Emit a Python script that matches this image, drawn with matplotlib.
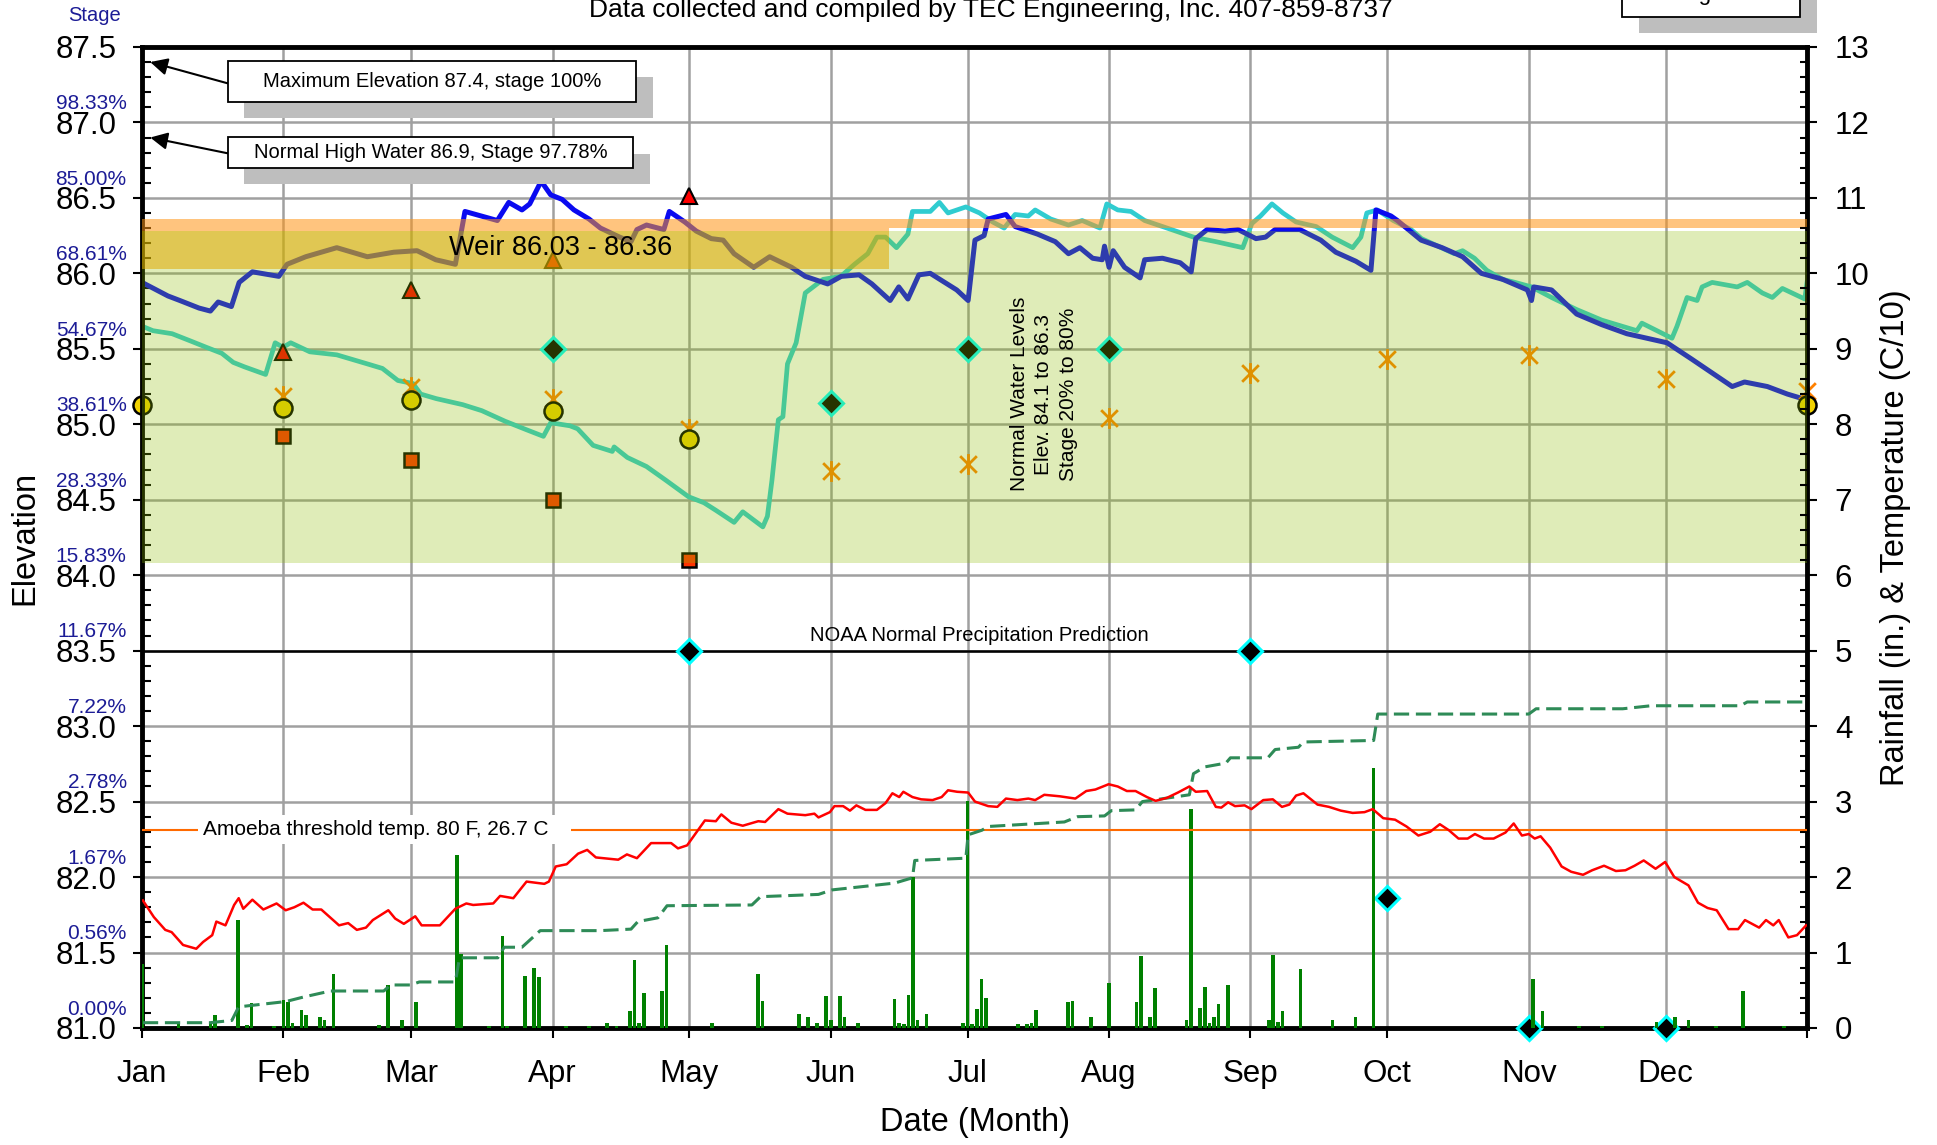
import numpy as np
import matplotlib
matplotlib.use("Agg")
import matplotlib.pyplot as plt
from matplotlib.patches import Rectangle
from matplotlib.path import Path
from matplotlib.ticker import MultipleLocator, FormatStrFormatter

plt.rcParams['font.family'] = ['Liberation Sans', 'DejaVu Sans']

# ---- axes / labels ----
months = ['Jan', 'Feb', 'Mar', 'Apr', 'May', 'Jun', 'Jul', 'Aug', 'Sep', 'Oct', 'Nov', 'Dec']
month_day = [0, 31, 59, 90, 120, 151, 181, 212, 243, 273, 304, 334]
elev_ticks = [81.0, 81.5, 82.0, 82.5, 83.0, 83.5, 84.0, 84.5, 85.0, 85.5, 86.0, 86.5, 87.0, 87.5]
stage_pct = ['0.00%', '0.56%', '1.67%', '2.78%', '7.22%', '11.67%', '15.83%',
             '28.33%', '38.61%', '54.67%', '68.61%', '85.00%', '98.33%']

# ---- reference levels ----
max_elev = 87.4
normal_high = 86.9
weir_lo, weir_hi = 86.03, 86.36
norm_lo, norm_hi = 84.08, 86.28
weir_end_day = 163.7
noaa_elev = 83.5
amoeba_temp = 2.63   # C/10 on right axis

# ---- lake elevation, current year (day, ft) ----
elev_pts = [(0, 85.94), (5.7, 85.85), (8.3, 85.82), (12.5, 85.77), (15, 85.75), (16.7, 85.81),
            (19.6, 85.78), (21.3, 85.94), (24.2, 86.01), (30, 85.98), (31.8, 86.06), (35.9, 86.11),
            (42.7, 86.17), (49.4, 86.11), (55.2, 86.14), (60.3, 86.15), (64.4, 86.09), (68.7, 86.06),
            (70.8, 86.41), (77.9, 86.35), (80.4, 86.47), (83.3, 86.42), (85, 86.46), (87.5, 86.61),
            (89.6, 86.52), (92.1, 86.49), (94.7, 86.42), (98, 86.36), (100.5, 86.30), (104.7, 86.24),
            (107.2, 86.21), (108.5, 86.29), (110.6, 86.32), (114.4, 86.29), (115.6, 86.41), (119, 86.34),
            (121.5, 86.28), (124.8, 86.23), (127.4, 86.22), (129.8, 86.13), (134.1, 86.04), (137.6, 86.11),
            (142.4, 86.04), (145.4, 85.98), (150.3, 85.93), (153.3, 85.98), (157.2, 85.99), (160, 85.93),
            (164, 85.82), (165.9, 85.91), (167.9, 85.83), (170.3, 85.99), (172.8, 86.00), (178.6, 85.89),
            (181.1, 85.82), (182.6, 86.22), (184.6, 86.25), (185.5, 86.36), (189.4, 86.39), (191.4, 86.31),
            (196.3, 86.26), (200.2, 86.21), (203.1, 86.13), (205.6, 86.17), (208.4, 86.10), (210.5, 86.09),
            (211, 86.18), (212, 86.04), (212.9, 86.15), (215.4, 86.04), (218.8, 85.97), (219.8, 86.09),
            (223.7, 86.10), (227.6, 86.07), (230, 86.01), (231, 86.23), (233.5, 86.29), (237.4, 86.28),
            (240.3, 86.29), (244.2, 86.23), (246.3, 86.24), (248.4, 86.29), (253.8, 86.29), (258.4, 86.22),
            (261.7, 86.14), (266.1, 86.08), (269.4, 86.02), (270.5, 86.42), (273.8, 86.38), (275.2, 86.35),
            (280.4, 86.22), (285, 86.17), (289.5, 86.11), (293.6, 86.00), (298.3, 85.96), (303.7, 85.89),
            (304.6, 85.82), (305.1, 85.91), (309, 85.89), (314.5, 85.73), (320, 85.66), (325.5, 85.60),
            (334.3, 85.54), (339.8, 85.43), (344.2, 85.34), (348.6, 85.25), (351.3, 85.28), (356.3, 85.25),
            (360.7, 85.20), (364, 85.17)]

# ---- lake elevation, previous year (day, ft) ----
prev_pts = [(0, 85.65), (2.4, 85.62), (6.6, 85.60), (10.8, 85.55), (14.1, 85.51), (17.5, 85.47),
            (20, 85.41), (22.5, 85.38), (27.1, 85.33), (29.2, 85.54), (30.9, 85.51), (32.6, 85.54),
            (36.8, 85.48), (42.7, 85.46), (49.4, 85.40), (52.7, 85.37), (56.1, 85.29), (59.4, 85.27),
            (61.1, 85.20), (64.5, 85.17), (70.3, 85.13), (74.5, 85.09), (79.6, 85.02), (84.6, 84.96),
            (88, 84.92), (89.6, 85.01), (93.8, 84.99), (95.5, 84.97), (98.9, 84.86), (103.1, 84.82),
            (103.5, 84.85), (106.4, 84.78), (110.6, 84.72), (114.8, 84.63), (119.8, 84.52), (123.2, 84.48),
            (125.8, 84.43), (129.8, 84.35), (131.7, 84.42), (136.1, 84.32), (137.1, 84.39), (138.1, 84.63),
            (139.5, 85.03), (140.5, 85.05), (141.5, 85.40), (143.4, 85.54), (145.4, 85.87), (149.3, 85.96),
            (153.2, 85.98), (156.2, 86.06), (159.1, 86.13), (161.1, 86.24), (163, 86.24), (165.4, 86.17),
            (167.9, 86.26), (168.9, 86.41), (172.8, 86.41), (174.8, 86.47), (176.7, 86.40), (180.6, 86.44),
            (183.6, 86.40), (186.5, 86.34), (189, 86.30), (191.4, 86.39), (194.3, 86.38), (195.8, 86.42),
            (199.2, 86.36), (203.1, 86.32), (206.1, 86.35), (210, 86.30), (211.5, 86.46), (213.9, 86.42),
            (216.8, 86.41), (219.8, 86.35), (224.7, 86.30), (230.5, 86.24), (235.4, 86.21), (241.3, 86.17),
            (243.3, 86.33), (245.2, 86.38), (247.7, 86.46), (250.1, 86.40), (253, 86.34), (257.4, 86.31),
            (260.9, 86.24), (265.4, 86.17), (267.2, 86.24), (268.5, 86.40), (270.8, 86.42), (274.3, 86.35),
            (278.2, 86.29), (280.5, 86.23), (284.1, 86.18), (287.7, 86.13), (289.5, 86.15), (292.1, 86.10),
            (294.8, 86.02), (298.3, 85.96), (301, 85.94), (304.6, 85.91), (309, 85.84), (314.5, 85.76),
            (320, 85.69), (327.7, 85.62), (328.8, 85.67), (335.4, 85.57), (336.5, 85.65), (338.7, 85.84),
            (340.9, 85.82), (342, 85.91), (344.2, 85.94), (349.7, 85.91), (351.9, 85.94), (355.2, 85.87),
            (357.4, 85.84), (359.6, 85.90), (364.5, 85.83), (365, 85.94)]

# ---- monthly markers (elevation axis) ----
circle_day = [0, 31, 59, 90, 120, 365]
circle_elev = [85.13, 85.11, 85.16, 85.09, 84.90, 85.13]
star_day = [31, 59, 90, 120, 151, 181, 212, 243, 273, 304, 334, 365]
star_elev = [85.19, 85.25, 85.17, 84.97, 84.69, 84.74, 85.04, 85.34, 85.43, 85.46, 85.30, 85.22]
square_day = [31, 59, 90, 120]
square_elev = [84.92, 84.76, 84.50, 84.10]
tri_day = [31, 59, 90, 120]
tri_elev = [85.48, 85.89, 86.09, 86.51]
diam_day = [90, 120, 151, 181, 212, 243, 273, 304, 334]
diam_elev = [85.50, 83.50, 85.14, 85.50, 85.50, 83.50, 81.86, 81.00, 81.00]

# ---- water temperature (C/10) ----
temp_pts = [(0.2, 1.69), (2.6, 1.47), (5.1, 1.30), (6.5, 1.27), (9.0, 1.10), (11.9, 1.05), (13.4, 1.14),
            (15.4, 1.23), (16.3, 1.41), (18.3, 1.36), (20.2, 1.63), (21.2, 1.72), (22.2, 1.58), (24.2, 1.70),
            (26.6, 1.57), (29.5, 1.65), (31.5, 1.56), (33.4, 1.60), (35.4, 1.66), (37.4, 1.57), (39.3, 1.57),
            (43.2, 1.36), (45.2, 1.39), (47.1, 1.30), (49.1, 1.33), (50.6, 1.43), (54.0, 1.56), (55.5, 1.45),
            (57.4, 1.38), (59.9, 1.48), (61.3, 1.36), (65.3, 1.36), (66.7, 1.45), (68.7, 1.58), (71.1, 1.65),
            (72.6, 1.63), (77.0, 1.65), (78.5, 1.75), (81.4, 1.72), (84.3, 1.94), (88.2, 1.91), (89.2, 1.94),
            (90.7, 2.14), (93.1, 2.17), (95.6, 2.31), (97.6, 2.36), (99.5, 2.26), (104.4, 2.23), (106.3, 2.30),
            (108.5, 2.25), (111.6, 2.45), (116.0, 2.45), (117.5, 2.38), (119.5, 2.42), (123.4, 2.75),
            (125.8, 2.74), (127.0, 2.83), (129.2, 2.72), (131.7, 2.68), (135.1, 2.74), (136.6, 2.73),
            (139.5, 2.90), (141.5, 2.84), (145.4, 2.82), (147.4, 2.84), (148.3, 2.79), (150.8, 2.86),
            (151.8, 2.94), (153.7, 2.94), (155.2, 2.88), (156.6, 2.95), (158.6, 2.89), (161.1, 2.89),
            (163.0, 2.98), (164.5, 3.11), (166.0, 3.06), (166.9, 3.13), (168.9, 3.06), (170.8, 3.03),
            (173.3, 3.02), (175.3, 3.06), (176.7, 3.15), (178.7, 3.13), (181.1, 3.12), (182.6, 3.00),
            (185.5, 2.94), (187.5, 2.93), (189.4, 3.04), (191.9, 3.02), (194.3, 3.04), (195.8, 3.02),
            (197.8, 3.09), (201.2, 3.07), (204.6, 3.04), (207.0, 3.14), (209.0, 3.16), (211.9, 3.23),
            (213.9, 3.20), (215.9, 3.14), (217.8, 3.14), (220.3, 3.06), (222.2, 3.01), (224.7, 3.05),
            (227.1, 3.12), (229.6, 3.20), (231.0, 3.13), (233.5, 3.14), (235.4, 2.93), (236.6, 2.92),
            (238.1, 2.99), (239.6, 2.94), (241.7, 2.95), (243.2, 2.90), (245.8, 3.02), (247.9, 3.03),
            (249.9, 2.93), (251.5, 2.96), (253.0, 3.08), (254.6, 3.11), (257.7, 2.96), (260.2, 2.93),
            (262.8, 2.88), (265.4, 2.85), (268.0, 2.86), (269.8, 2.90), (272.1, 2.78), (274.7, 2.76),
            (277.2, 2.67), (279.8, 2.55), (282.4, 2.60), (284.5, 2.70), (286.5, 2.62), (288.6, 2.51),
            (290.6, 2.51), (292.2, 2.57), (294.2, 2.51), (296.3, 2.51), (298.9, 2.59), (300.7, 2.71),
            (302.5, 2.55), (304.0, 2.57), (305.3, 2.51), (306.6, 2.54), (308.7, 2.39), (311.2, 2.14),
            (313.3, 2.07), (315.9, 2.03), (317.9, 2.09), (320.5, 2.15), (323.1, 2.08), (325.2, 2.09),
            (327.2, 2.15), (329.2, 2.22), (331.8, 2.11), (333.9, 2.20), (335.9, 2.00), (339.0, 1.89),
            (341.1, 1.66), (343.2, 1.59), (345.2, 1.56), (347.8, 1.31), (349.9, 1.31), (351.4, 1.43),
            (354.5, 1.33), (356.0, 1.43), (357.6, 1.36), (358.8, 1.43), (360.9, 1.20), (362.8, 1.23),
            (364.8, 1.36)]

# ---- cumulative rainfall (in.) ----
cum_pts = [(0.2, 0.07), (14.9, 0.07), (19.7, 0.10), (21.2, 0.28), (31.5, 0.35), (35.4, 0.41),
           (41.3, 0.49), (53.0, 0.49), (54.5, 0.57), (58.9, 0.57), (60.8, 0.61), (68.7, 0.61),
           (69.6, 0.93), (78.0, 0.93), (79.4, 1.07), (83.3, 1.07), (87.3, 1.29), (100.4, 1.29),
           (107.2, 1.31), (108.7, 1.41), (113.1, 1.46), (115.1, 1.62), (133.7, 1.63), (135.6, 1.74),
           (148.3, 1.77), (151.3, 1.83), (165.0, 1.92), (168.9, 1.99), (169.4, 2.22), (180.6, 2.25),
           (181.1, 2.56), (184.1, 2.62), (185.5, 2.67), (202.2, 2.73), (205.1, 2.80), (211.0, 2.81),
           (212.5, 2.88), (217.8, 2.89), (219.3, 3.00), (221.7, 3.02), (229.6, 3.09), (230.5, 3.37),
           (233.0, 3.46), (237.6, 3.51), (238.6, 3.58), (246.8, 3.58), (248.4, 3.69), (253.5, 3.72),
           (254.6, 3.79), (270.0, 3.81), (270.9, 4.16), (304.0, 4.16), (305.6, 4.23), (324.6, 4.23),
           (330.8, 4.27), (350.4, 4.27), (351.9, 4.32), (364.8, 4.32)]

# ---- daily rainfall (in.) ----
rain_day = [0, 8, 15, 16, 21, 23, 24, 29, 31, 32, 33, 35, 36, 39, 40, 42, 52, 54, 57, 60,
            69, 70, 76, 79, 80, 84, 86, 87, 93, 98, 102, 104, 107, 108, 109, 110, 114, 115, 125, 135,
            136, 144, 146, 148, 150, 151, 153, 154, 157, 165, 166, 167, 168, 169, 170, 172, 180, 181, 182, 183,
            184, 185, 192, 194, 195, 196, 203, 204, 208, 212, 218, 219, 221, 222, 229, 230, 232, 233, 234, 235,
            236, 238, 247, 248, 249, 250, 254, 261, 266, 270, 305, 307, 315, 320, 332, 336, 339, 345, 351, 360]
rain_in = [0.85, 0.07, 0.06, 0.17, 1.43, 0.04, 0.33, 0.03, 0.37, 0.35, 0.07, 0.24, 0.17, 0.15, 0.11, 0.71, 0.04, 0.57, 0.11, 0.35,
           2.29, 0.98, 0.02, 1.22, 0.02, 0.69, 0.80, 0.68, 0.02, 0.02, 0.07, 0.02, 0.23, 0.90, 0.07, 0.47, 0.49, 1.10, 0.06, 0.71,
           0.36, 0.19, 0.14, 0.07, 0.43, 0.11, 0.43, 0.14, 0.07, 0.39, 0.07, 0.05, 0.44, 2.00, 0.11, 0.19, 0.07, 3.01, 0.05, 0.25,
           0.65, 0.40, 0.05, 0.05, 0.06, 0.24, 0.35, 0.36, 0.14, 0.60, 0.35, 0.95, 0.14, 0.53, 0.10, 2.90, 0.27, 0.54, 0.07, 0.15,
           0.32, 0.57, 0.10, 0.97, 0.08, 0.23, 0.78, 0.10, 0.14, 3.45, 0.65, 0.23, 0.02, 0.02, 0.08, 0.14, 0.10, 0.02, 0.49, 0.02]

navy = '#1C1C96'
fs = 22.5
lfs = 23.5

fig = plt.figure(figsize=(19.37, 11.45), dpi=100)
ax = fig.add_axes([0.0733, 0.1022, 0.8596, 0.8568])
ax2 = ax.twinx()

ax.set_xlim(0, 365)
ax.set_ylim(81.0, 87.5)
ax2.set_ylim(0, 13)

# grid + NOAA line
ax.set_axisbelow(True)
ax.grid(True, which='major', color='#A0A0A0', lw=1.8)
ax.axhline(noaa_elev, color='black', lw=1.8, zorder=1)

# lake level lines
e = np.array(elev_pts)
p = np.array(prev_pts)
ax.plot(p[:, 0], p[:, 1], color='#30CCD0', lw=3.4, zorder=2, solid_joinstyle='round')
ax.plot(e[:, 0], e[:, 1], color='#0A0AF0', lw=3.6, zorder=2.1, solid_joinstyle='round')

# monthly markers
star = Path([(-1, -1), (1, 1), (-1, 1), (1, -1), (0, -1.25), (0, 1.25)],
            [Path.MOVETO, Path.LINETO] * 3)
ax.plot(tri_day, tri_elev, ls='none', marker='^', ms=11, mfc='#FF0000', mec='black', mew=1.5, zorder=2.3, clip_on=False)
ax.plot(square_day, square_elev, ls='none', marker='s', ms=10, mfc='#FF3300', mec='black', mew=1.8, zorder=2.3, clip_on=False)
ax.plot(star_day, star_elev, ls='none', marker=star, ms=15, mfc='none', mec='#FF8000', mew=2.0, zorder=2.4, clip_on=False)
ax.plot(circle_day, circle_elev, ls='none', marker='o', ms=13, mfc='#F2D200', mec='black', mew=1.8, zorder=2.5, clip_on=False)
ax.plot(diam_day, diam_elev, ls='none', marker='D', ms=12, mfc='black', mec='#00FFFF', mew=2.2, zorder=2.6, clip_on=False)

# bands drawn over lines (semi transparent)
ax.add_patch(Rectangle((0, norm_lo), 365, norm_hi - norm_lo, fc=(140/255, 190/255, 0), alpha=0.28, lw=0, zorder=3))
ax.add_patch(Rectangle((0, weir_lo), weir_end_day, norm_hi - weir_lo, fc=(225/255, 170/255, 0), alpha=0.55, lw=0, zorder=3.1))
ax.add_patch(Rectangle((0, norm_hi), weir_end_day, weir_hi - norm_hi, fc=(1.0, 148/255, 20/255), alpha=0.55, lw=0, zorder=3.1))
ax.add_patch(Rectangle((weir_end_day, 86.30), 365 - weir_end_day, weir_hi - 86.30, fc=(1.0, 148/255, 20/255), alpha=0.55, lw=0, zorder=3.1))

ax.text(67.4, 86.17, 'Weir 86.03 - 86.36', fontsize=19.5, va='center', ha='left', zorder=6)
ax.text(197.7, 85.2, 'Normal Water Levels\nElev. 84.1 to 86.3\nStage 20% to 80%', rotation=90,
        fontsize=15, ha='center', va='center', multialignment='center', linespacing=1.35, zorder=6)
ax.text(183.6, 83.565, 'NOAA Normal Precipitation Prediction', fontsize=14.5, ha='center', va='baseline', zorder=6)

# right axis: temperature, rainfall
t = np.array(temp_pts)
c = np.array(cum_pts)
ax2.bar(rain_day, rain_in, width=0.8, color='#008000', zorder=2)
ax2.plot(c[:, 0], c[:, 1], color='#2E8B57', lw=2.2, dashes=(5, 2.2), zorder=3)
ax2.plot(t[:, 0], t[:, 1], color='#FF0000', lw=1.8, zorder=3)
ax2.axhline(amoeba_temp, color='#FF6A00', lw=1.5, zorder=2.5)
ax2.text(13.4, amoeba_temp, 'Amoeba threshold temp. 80 F, 26.7 C   ', fontsize=15, va='center', ha='left', zorder=4,
         bbox=dict(boxstyle='square,pad=0.25', fc='white', ec='none'))

# ticks
ax.set_xticks(month_day + [365])
ax.set_xticklabels(months + [''], fontsize=fs)
ax.set_yticks(elev_ticks)
ax.yaxis.set_major_formatter(FormatStrFormatter('%.1f'))
ax.yaxis.set_minor_locator(MultipleLocator(0.1))
ax.tick_params(axis='y', which='major', direction='out', length=6.5, width=1.5, labelsize=fs, pad=12)
ax.tick_params(axis='y', which='minor', direction='in', length=6.5, width=1.5)
ax.tick_params(axis='x', which='major', direction='out', length=7, width=1.5, labelsize=fs, pad=15)
ax2.set_yticks(range(0, 14))
ax2.yaxis.set_minor_locator(MultipleLocator(0.2))
ax2.tick_params(axis='y', which='major', direction='out', length=7, width=1.5, labelsize=fs, pad=13)
ax2.tick_params(axis='y', which='minor', direction='in', length=5, width=1.5)

for s in ax.spines.values():
    s.set_linewidth(3.5)
for s in ax2.spines.values():
    s.set_visible(False)

ax.set_ylabel('Elevation', fontsize=lfs)
ax.yaxis.set_label_coords(-0.061, 0.5)
ax2.set_ylabel('Rainfall (in.) & Temperature (C/10)', fontsize=lfs)
ax2.yaxis.set_label_coords(1.044, 0.5)
ax.set_xlabel('Date (Month)', fontsize=lfs)
ax.xaxis.set_label_coords(0.5, -0.081)

# stage percentages beside the elevation ticks
for el, pct in zip(elev_ticks[:-1], stage_pct):
    ax.annotate(pct, xy=(0, el), xycoords=('axes fraction', 'data'), xytext=(-11, 9.5),
                textcoords='offset points', ha='right', va='baseline', fontsize=15,
                color=navy, annotation_clip=False)
fig.text(0.049, 0.9817, 'Stage', ha='center', va='baseline', fontsize=14.5, color=navy)

fig.text(0.5115, 0.985, 'Data collected and compiled by TEC Engineering, Inc. 407-859-8737',
         ha='center', va='baseline', fontsize=19)

# call-out boxes with drop shadows
boxes = [((0.1176, 0.9112, 0.2107, 0.0355), (0.1260, 0.8972, 0.2110, 0.0353),
          'Maximum Elevation 87.4, stage 100%', max_elev, 0.9272),
         ((0.1176, 0.8530, 0.2092, 0.0271), (0.1260, 0.8390, 0.2094, 0.0265),
          'Normal High Water 86.9, Stage 97.78%', normal_high, 0.8661)]
for (bx, by, bw, bh), (sx, sy, sw, sh), label, lvl, ay in boxes:
    fig.add_artist(Rectangle((sx, sy), sw, sh, transform=fig.transFigure, fc='#BEBEBE', ec='none', zorder=5))
    fig.add_artist(Rectangle((bx, by), bw, bh, transform=fig.transFigure, fc='white', ec='black', lw=1.3, zorder=6))
    fig.text(bx + bw / 2, by + bh / 2, label, ha='center', va='center', fontsize=14.5, zorder=7)
    ax.annotate('', xy=(1.8, lvl), xytext=(bx, ay), textcoords='figure fraction',
                arrowprops=dict(arrowstyle='-|>', color='black', lw=1.5, mutation_scale=26,
                                shrinkA=0, shrinkB=0), annotation_clip=False, zorder=7)

# legend box peeking in at the top right
fig.add_artist(Rectangle((0.8462, 0.9712), 0.0919, 0.05, transform=fig.transFigure, fc='#BEBEBE', ec='none', zorder=5))
fig.add_artist(Rectangle((0.8374, 0.9852), 0.0919, 0.05, transform=fig.transFigure, fc='white', ec='black', lw=1.3, zorder=6))
fig.text(0.8833, 1.0, 'Legend', ha='center', va='baseline', fontsize=16, zorder=7)

plt.savefig('out.png', dpi=100)
